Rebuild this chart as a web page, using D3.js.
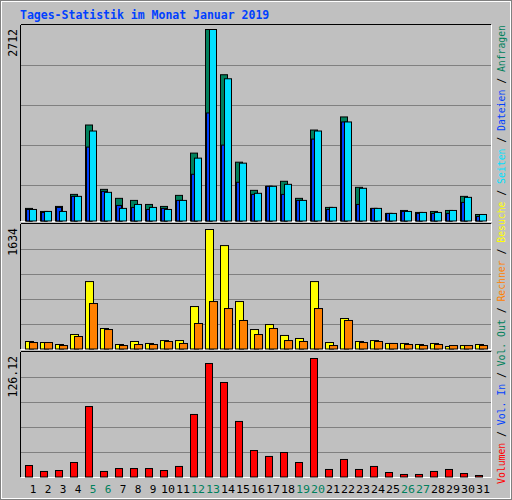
<!DOCTYPE html>
<html><head><meta charset="utf-8">
<script src="https://cdn.jsdelivr.net/npm/d3@7"></script>
<style>body{margin:0;background:#fff}</style></head>
<body><svg id="c" width="512" height="500"></svg>
<script>
const days = d3.range(1,32).map(String);
const weekend = ["5","6","12","13","19","20","26","27"];
const hits  = [185,142,213,383,1363,454,327,298,241,213,369,966,2712,2073,838,440,497,568,327,1292,199,1477,483,185,114,156,128,142,156,355,99];
const files = [170,128,199,355,1051,426,227,199,170,185,298,667,1533,1079,554,383,497,383,298,1164,170,1406,241,185,114,142,114,114,114,270,71];
const pages = [170,142,142,355,1278,412,185,241,199,170,298,895,2712,2016,824,398,497,525,298,1278,199,1406,469,185,114,142,128,128,156,341,99];
const visits= [109,95,68,204,925,286,68,109,82,122,122,585,1634,1415,653,272,340,191,150,925,95,422,109,122,82,82,68,82,41,54,68];
const sites = [95,95,54,177,626,272,54,68,68,109,82,354,653,558,395,204,286,122,109,558,54,395,95,109,82,68,54,68,54,54,54];
const volume= [12.7,6.4,7.4,15.9,75.2,6.4,9.5,9.5,9.5,7.4,11.7,66.8,120.8,100.7,59.4,28.6,22.3,26.5,15.9,126.12,8.5,19.1,8.5,11.7,5.3,3.2,3.2,6.4,8.5,4.2,2.1];
const maxLabels = ["2712","1634","126.12"];
const rightLegend = [["Volumen","#ff0000"],["Vol. In","#0040ff"],["Vol. Out","#00805c"],["Rechner","#ff8000"],["Besuche","#ffff00"],["Seiten","#00e0ff"],["Dateien","#0040ff"],["Anfragen","#00805c"]];

const svg = d3.select("#c");
const font = "'DejaVu Sans Mono', monospace";
svg.append("rect").attr("x",0).attr("y",0).attr("width",512).attr("height",500).attr("fill","#c0c0c0");
svg.append("rect").attr("x",0.5).attr("y",0.5).attr("width",511).attr("height",499).attr("fill","none").attr("stroke","#808080");
svg.append("rect").attr("x",1.5).attr("y",1.5).attr("width",509).attr("height",497).attr("fill","none").attr("stroke","#fff");
svg.append("text").attr("x",20).attr("y",19).attr("font-family",font).attr("font-weight","bold")
  .attr("font-size",11.5).attr("fill","#0040ff").text("Tages-Statistik im Monat Januar 2019");

const X0 = 21, X1 = 491;
const x = d3.scaleBand().domain(days).range([25-4.5, 25-4.5+15*31]).paddingInner(0);
const panels = [
  {top:25, bot:221, lines:[65,105,145,185], h:192},
  {top:224, bot:349, lines:[249,274,299,324], h:120},
  {top:352, bot:477, lines:[377,402,427,452], h:119}
];
panels.forEach((p,i)=>{
  const g = svg.append("g");
  g.append("line").attr("x1",X0).attr("x2",X1).attr("y1",p.top-0.5).attr("y2",p.top-0.5).attr("stroke","#000");
  g.append("line").attr("x1",X0-0.5).attr("x2",X0-0.5).attr("y1",p.top).attr("y2",p.bot).attr("stroke","#000");
  g.append("line").attr("x1",X0).attr("x2",X1).attr("y1",p.bot+0.5).attr("y2",p.bot+0.5).attr("stroke","#fff");
  g.append("line").attr("x1",X1+0.5).attr("x2",X1+0.5).attr("y1",p.top).attr("y2",p.bot+1).attr("stroke","#fff");
  p.lines.forEach(l=>g.append("line").attr("x1",X0).attr("x2",X1).attr("y1",l+0.5).attr("y2",l+0.5).attr("stroke","#808080"));
  g.append("text").attr("transform",`translate(17,${p.top+4}) rotate(-90)`).attr("text-anchor","end")
    .attr("font-family",font).attr("font-size",11.5).attr("fill","#000").text(maxLabels[i]);
});
const x5 = d => x(d)+4.5;
function bars(panel, data, max, dx, w, color){
  const y = d3.scaleLinear().domain([0,max]).range([panel.bot, panel.bot-panel.h]);
  svg.append("g").selectAll("rect").data(data).join("rect")
    .attr("x",(v,i)=>x5(days[i])+dx+0.5).attr("y",v=>y(v)+0.5)
    .attr("width",w).attr("height",v=>Math.max(0,panel.bot-y(v)-0.5))
    .attr("fill",color).attr("stroke","#000").attr("stroke-width",1);
}
bars(panels[0], hits, 2712, 0, 7, "#00805c");
bars(panels[0], files, 2712, 1, 5, "#0040ff");
bars(panels[0], pages, 2712, 4, 7, "#00e0ff");
bars(panels[1], visits, 1634, 0, 8, "#ffff00");
bars(panels[1], sites, 1634, 4, 8, "#ff8000");
bars(panels[2], volume, 126.12, 0, 7, "#ff0000");

svg.append("g").selectAll("text").data(days).join("text")
  .attr("x",d=>x5(d)+8).attr("y",493).attr("text-anchor","middle")
  .attr("font-family",font).attr("font-size",11).attr("textLength",d=>d.length>1?14:null)
  .attr("lengthAdjust","spacingAndGlyphs")
  .attr("fill",d=>weekend.includes(d)?"#00805c":"#000").text(d=>d);

const rt = svg.append("text").attr("transform","translate(505,484) rotate(-90)")
  .attr("font-family",font).attr("font-size",10.6).attr("textLength",459).attr("lengthAdjust","spacingAndGlyphs");
rightLegend.forEach((e,i)=>{
  if(i>0) rt.append("tspan").attr("fill","#000").text(" / ");
  rt.append("tspan").attr("fill",e[1]).text(e[0]);
});
</script></body></html>
